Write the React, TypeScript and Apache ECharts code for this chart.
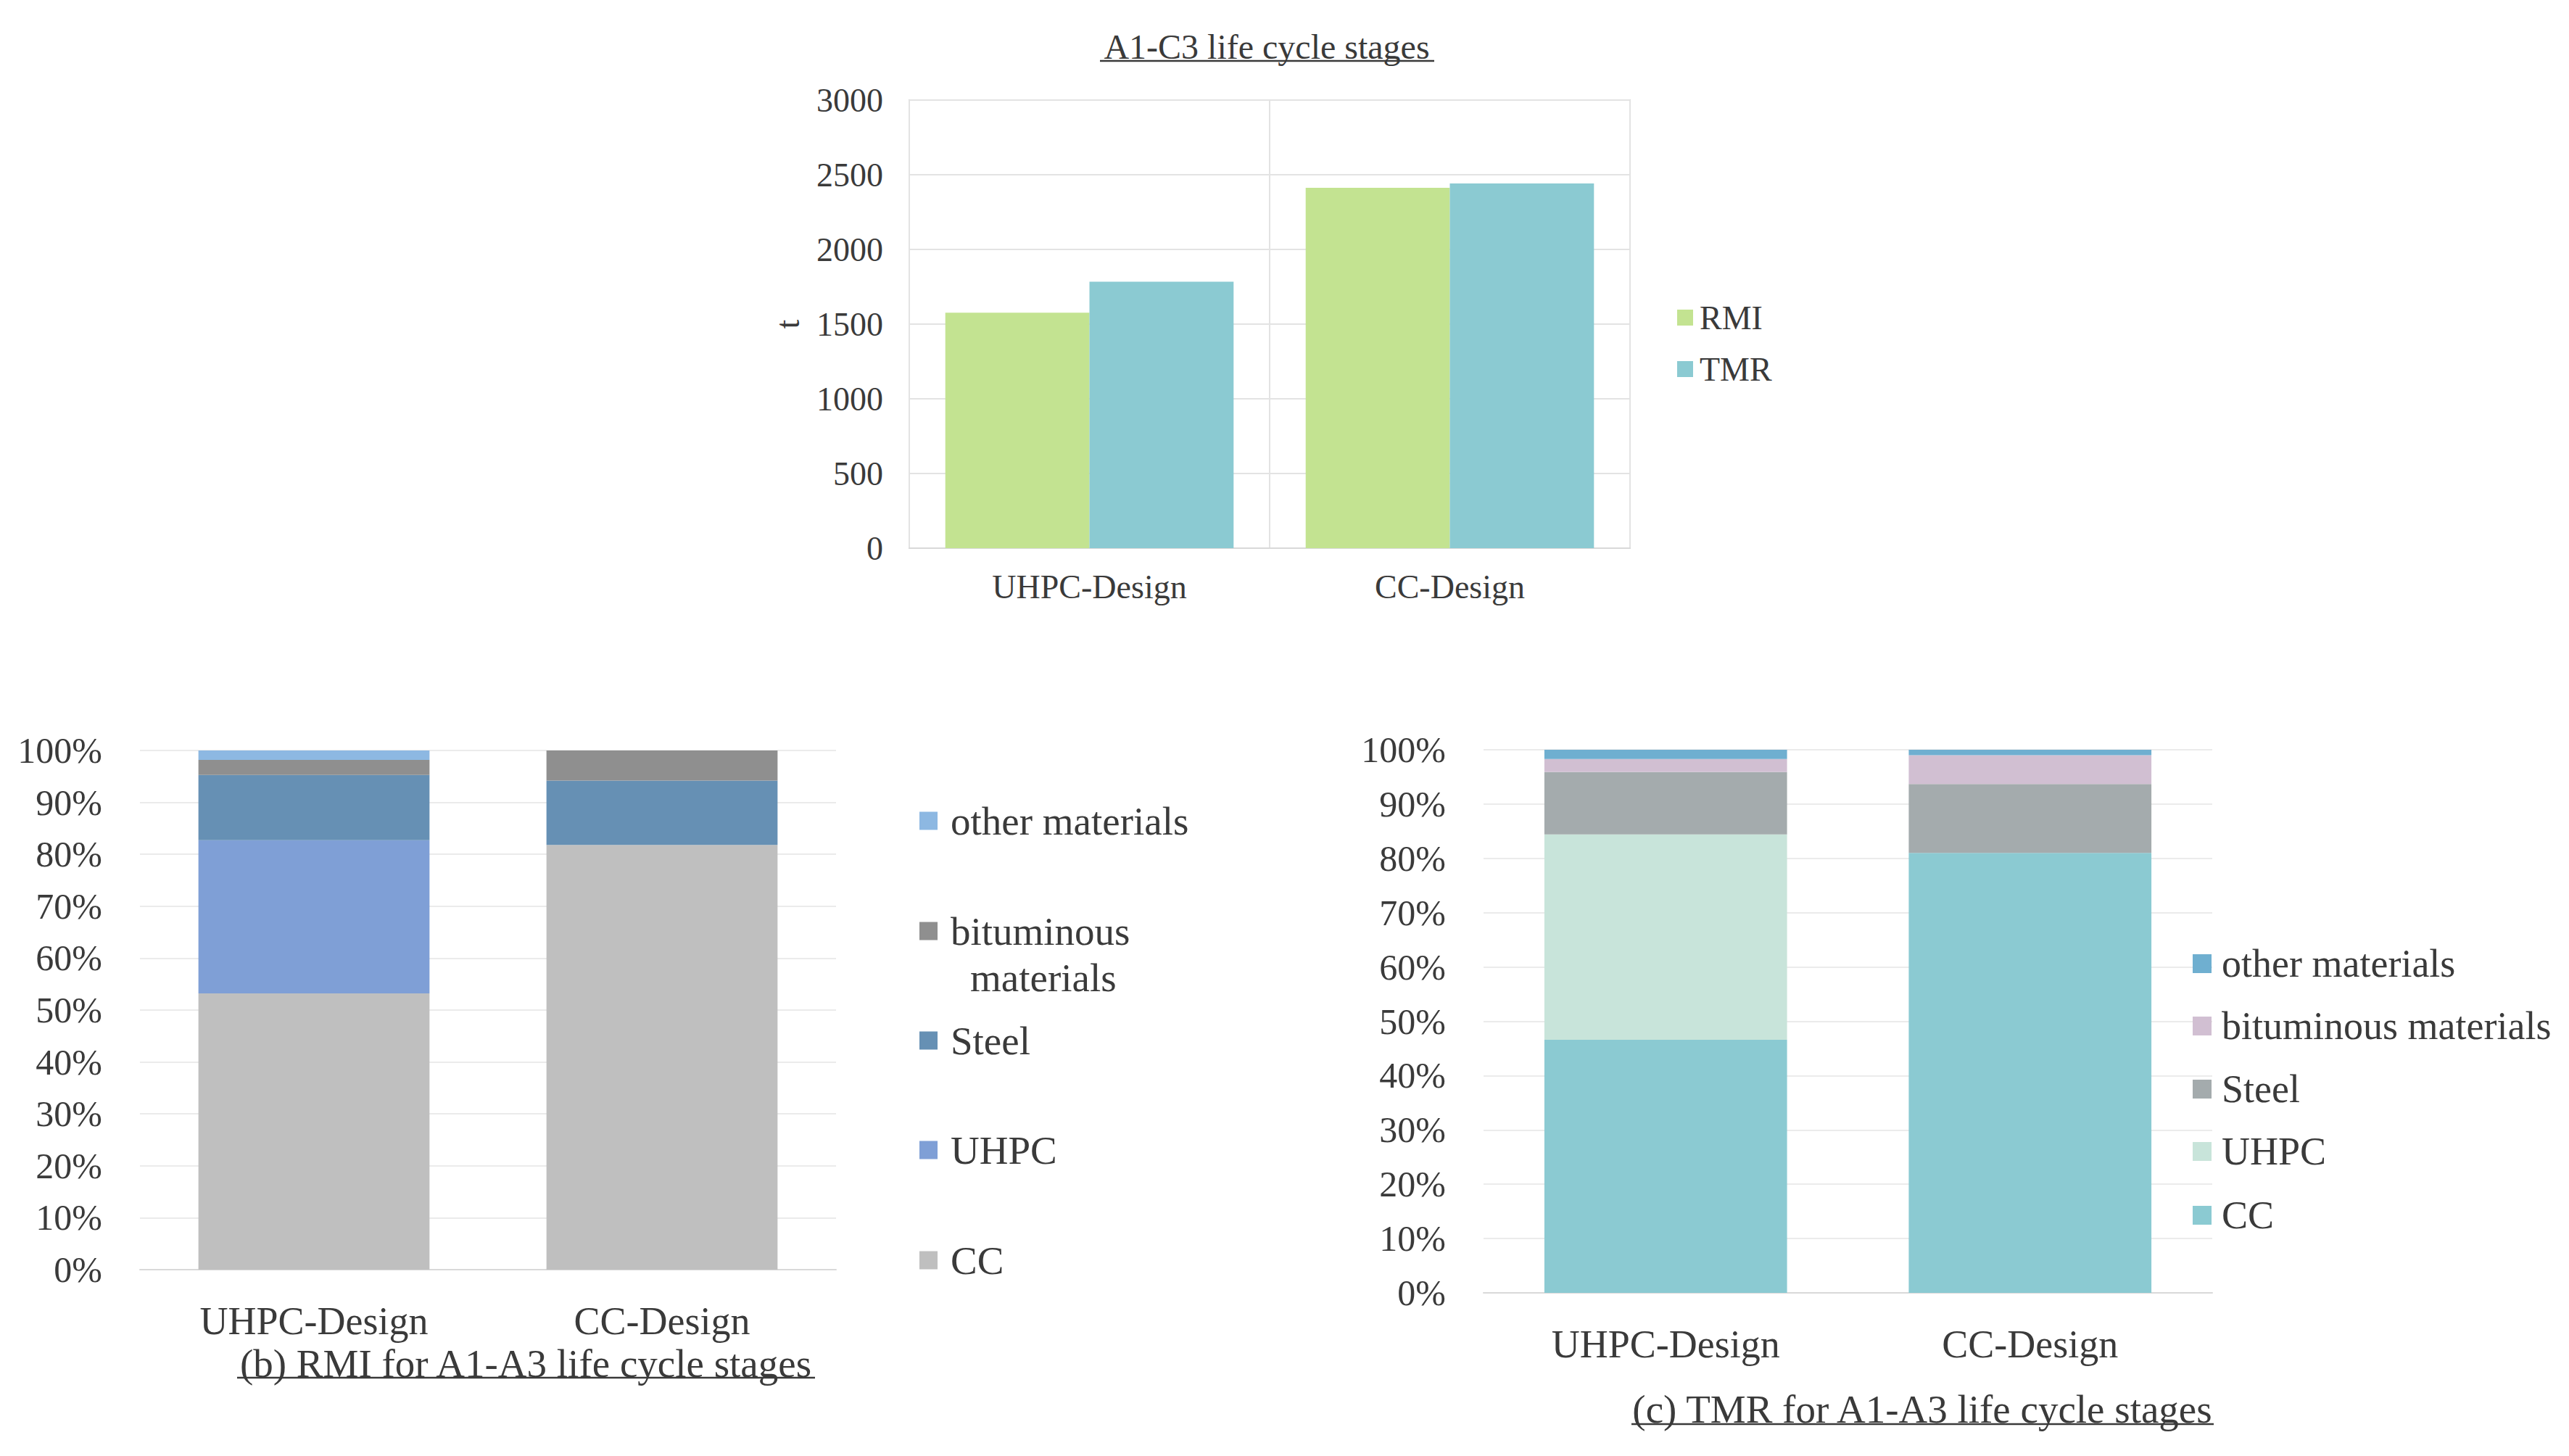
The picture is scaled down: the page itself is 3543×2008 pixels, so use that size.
import React, { useEffect, useRef } from "react";
import * as echarts from "echarts";

// ---------- data ----------
const designs = ["UHPC-Design", "CC-Design"];

// (a) A1-C3 totals, t
const rmiTotal = [1576, 2413];
const tmrTotal = [1784, 2442];

// stack order bottom -> top
const materials = ["CC", "UHPC", "Steel", "bituminous materials", "other materials"];

// (b) RMI shares, %
const rmiCC = [53.2, 81.8];
const rmiUHPC = [29.5, 0];
const rmiSteel = [12.6, 12.4];
const rmiBitumen = [2.9, 5.8];
const rmiOther = [1.8, 0];

// (c) TMR shares, %
const tmrCC = [46.6, 81.0];
const tmrUHPC = [37.8, 0];
const tmrSteel = [11.5, 12.7];
const tmrBitumen = [2.4, 5.3];
const tmrOther = [1.7, 1.0];

const titleTop = "A1-C3 life cycle stages";
const titleB = "(b) RMI for A1-A3 life cycle stages";
const titleC = "(c) TMR for A1-A3 life cycle stages";

// ---------- styles ----------
const FONT = "Liberation Serif";
const TXT = "#3a3a3a";
const colorsB = ["#bfbfbf", "#7f9fd6", "#6690b4", "#8f8f8f", "#8db8e2"];
const colorsC = ["#8bcad2", "#c8e4da", "#a4abad", "#d1bfd2", "#6fafd0"];
const colorRMI = "#c3e391";
const colorTMR = "#8bcad2";

export default function App() {
  const ref = useRef<HTMLDivElement>(null);

  useEffect(() => {
    if (!ref.current) return;
    const chart = echarts.init(ref.current, undefined, { renderer: "svg" });

    const rmiSets = [rmiCC, rmiUHPC, rmiSteel, rmiBitumen, rmiOther];
    const tmrSets = [tmrCC, tmrUHPC, tmrSteel, tmrBitumen, tmrOther];

    const catAxis = (gridIndex: number, fontSize: number, margin: number, split: boolean) => ({
      type: "category",
      gridIndex,
      data: designs,
      axisTick: { show: false },
      axisLine: { show: true, lineStyle: { color: "#d9d9d9", width: 2 } },
      splitLine: { show: split, lineStyle: { color: "#e3e3e3", width: 2 } },
      axisLabel: { fontSize, fontFamily: FONT, color: TXT, margin },
    });

    const pctAxis = (gridIndex: number) => ({
      type: "value",
      gridIndex,
      min: 0,
      max: 100,
      interval: 10,
      axisLine: { show: false },
      axisTick: { show: false },
      splitLine: { lineStyle: { color: "#ebebeb", width: 2 } },
      axisLabel: { fontSize: 50, fontFamily: FONT, color: TXT, margin: 52, formatter: "{value}%" },
    });

    const stackSeries = (sets: number[][], colors: string[], idx: number, gap: string) =>
      materials.map((m, i) => ({
        type: "bar",
        name: m,
        stack: "s" + idx,
        xAxisIndex: idx,
        yAxisIndex: idx,
        barCategoryGap: gap,
        data: sets[i],
        itemStyle: { color: colors[i] },
      }));

    const legendItem = (
      name: string,
      color: string,
      left: number,
      cy: number,
      size: number,
      fontSize: number,
      pad: number,
      label?: string
    ) => ({
      show: true,
      left,
      top: cy - 36,
      orient: "vertical",
      selectedMode: false,
      icon: "rect",
      itemWidth: size,
      itemHeight: size,
      itemGap: 0,
      data: [{ name, itemStyle: { color } }],
      formatter: label ? () => label : undefined,
      textStyle: {
        fontSize,
        fontFamily: FONT,
        color: TXT,
        lineHeight: 60,
        padding: [0, 0, 0, pad],
      },
    });

    const legendB = [
      legendItem("other materials", colorsB[4], 1263, 1133, 25, 55, 13),
      legendItem("bituminous materials", colorsB[3], 1263, 1285, 25, 55, 13, "bituminous"),
      legendItem("bituminous materials", "rgba(0,0,0,0)", 1290, 1349, 25, 55, 13, "materials"),
      legendItem("Steel", colorsB[2], 1263, 1436, 25, 55, 13),
      legendItem("UHPC", colorsB[1], 1263, 1587, 25, 55, 13),
      legendItem("CC", colorsB[0], 1263, 1739, 25, 55, 13),
    ];
    const legendC = [
      legendItem("other materials", colorsC[4], 3019, 1330, 26, 54, 9),
      legendItem("bituminous materials", colorsC[3], 3019, 1416, 26, 54, 9),
      legendItem("Steel", colorsC[2], 3019, 1503, 26, 54, 9),
      legendItem("UHPC", colorsC[1], 3019, 1589, 26, 54, 9),
      legendItem("CC", colorsC[0], 3019, 1677, 26, 54, 9),
    ];
    const legendTop = {
      show: true,
      left: 2308,
      top: 439 - 31,
      orient: "vertical",
      selectedMode: false,
      icon: "rect",
      itemWidth: 22,
      itemHeight: 22,
      itemGap: 21,
      data: [
        { name: "RMI", itemStyle: { color: colorRMI } },
        { name: "TMR", itemStyle: { color: colorTMR } },
      ],
      textStyle: { fontSize: 46, fontFamily: FONT, color: TXT, lineHeight: 50, padding: [0, 0, 0, 4] },
    };

    const titleText = (text: string, x: number, y: number, fontSize: number) => ({
      type: "text",
      x,
      y,
      style: { text, fontSize, fontFamily: FONT, fill: TXT, align: "center", verticalAlign: "middle" },
    });
    const underline = (x1: number, x2: number, y: number) => ({
      type: "line",
      shape: { x1, y1: y, x2, y2: y },
      style: { stroke: TXT, lineWidth: 2.5 },
    });

    const option: any = {
      animation: false,
      backgroundColor: "#ffffff",
      textStyle: { fontFamily: FONT },
      grid: [
        { left: 1254, top: 138, width: 994, height: 618, show: true, borderColor: "#d9d9d9", borderWidth: 2, containLabel: false },
        { left: 193, top: 1035, width: 960, height: 716, containLabel: false },
        { left: 2046, top: 1034, width: 1005, height: 749, containLabel: false },
      ],
      xAxis: [catAxis(0, 46, 30, true), catAxis(1, 54, 44, false), catAxis(2, 54, 44, false)],
      yAxis: [
        {
          type: "value",
          gridIndex: 0,
          min: 0,
          max: 3000,
          interval: 500,
          axisLine: { show: false },
          axisTick: { show: false },
          splitLine: { lineStyle: { color: "#e3e3e3", width: 2 } },
          axisLabel: { fontSize: 46, fontFamily: FONT, color: TXT, margin: 36, formatter: (v: number) => String(v) },
          name: "t",
          nameLocation: "middle",
          nameRotate: 90,
          nameGap: 145,
          nameTextStyle: { fontSize: 46, fontFamily: FONT, color: TXT },
        },
        pctAxis(1),
        pctAxis(2),
      ],
      legend: [legendTop, ...legendB, ...legendC],
      series: [
        {
          type: "bar",
          name: "RMI",
          xAxisIndex: 0,
          yAxisIndex: 0,
          barGap: "0%",
          barCategoryGap: "20%",
          data: rmiTotal,
          itemStyle: { color: colorRMI },
        },
        {
          type: "bar",
          name: "TMR",
          xAxisIndex: 0,
          yAxisIndex: 0,
          barGap: "0%",
          barCategoryGap: "20%",
          data: tmrTotal,
          itemStyle: { color: colorTMR },
        },
        ...stackSeries(rmiSets, colorsB, 1, "33.6%"),
        ...stackSeries(tmrSets, colorsC, 2, "33.4%"),
      ],
      graphic: [
        titleText(titleTop, 1747, 64, 48),
        underline(1517, 1978, 84),
        titleText(titleB, 725, 1880, 55),
        underline(327, 1124, 1900),
        titleText(titleC, 2651, 1943, 55),
        underline(2250, 3053, 1964),
      ],
    };

    chart.setOption(option);
    return () => chart.dispose();
  }, []);

  return (
    <div
      ref={ref}
      style={{ position: "fixed", left: 0, top: 0, width: 3543, height: 2008, background: "#fff" }}
    />
  );
}
